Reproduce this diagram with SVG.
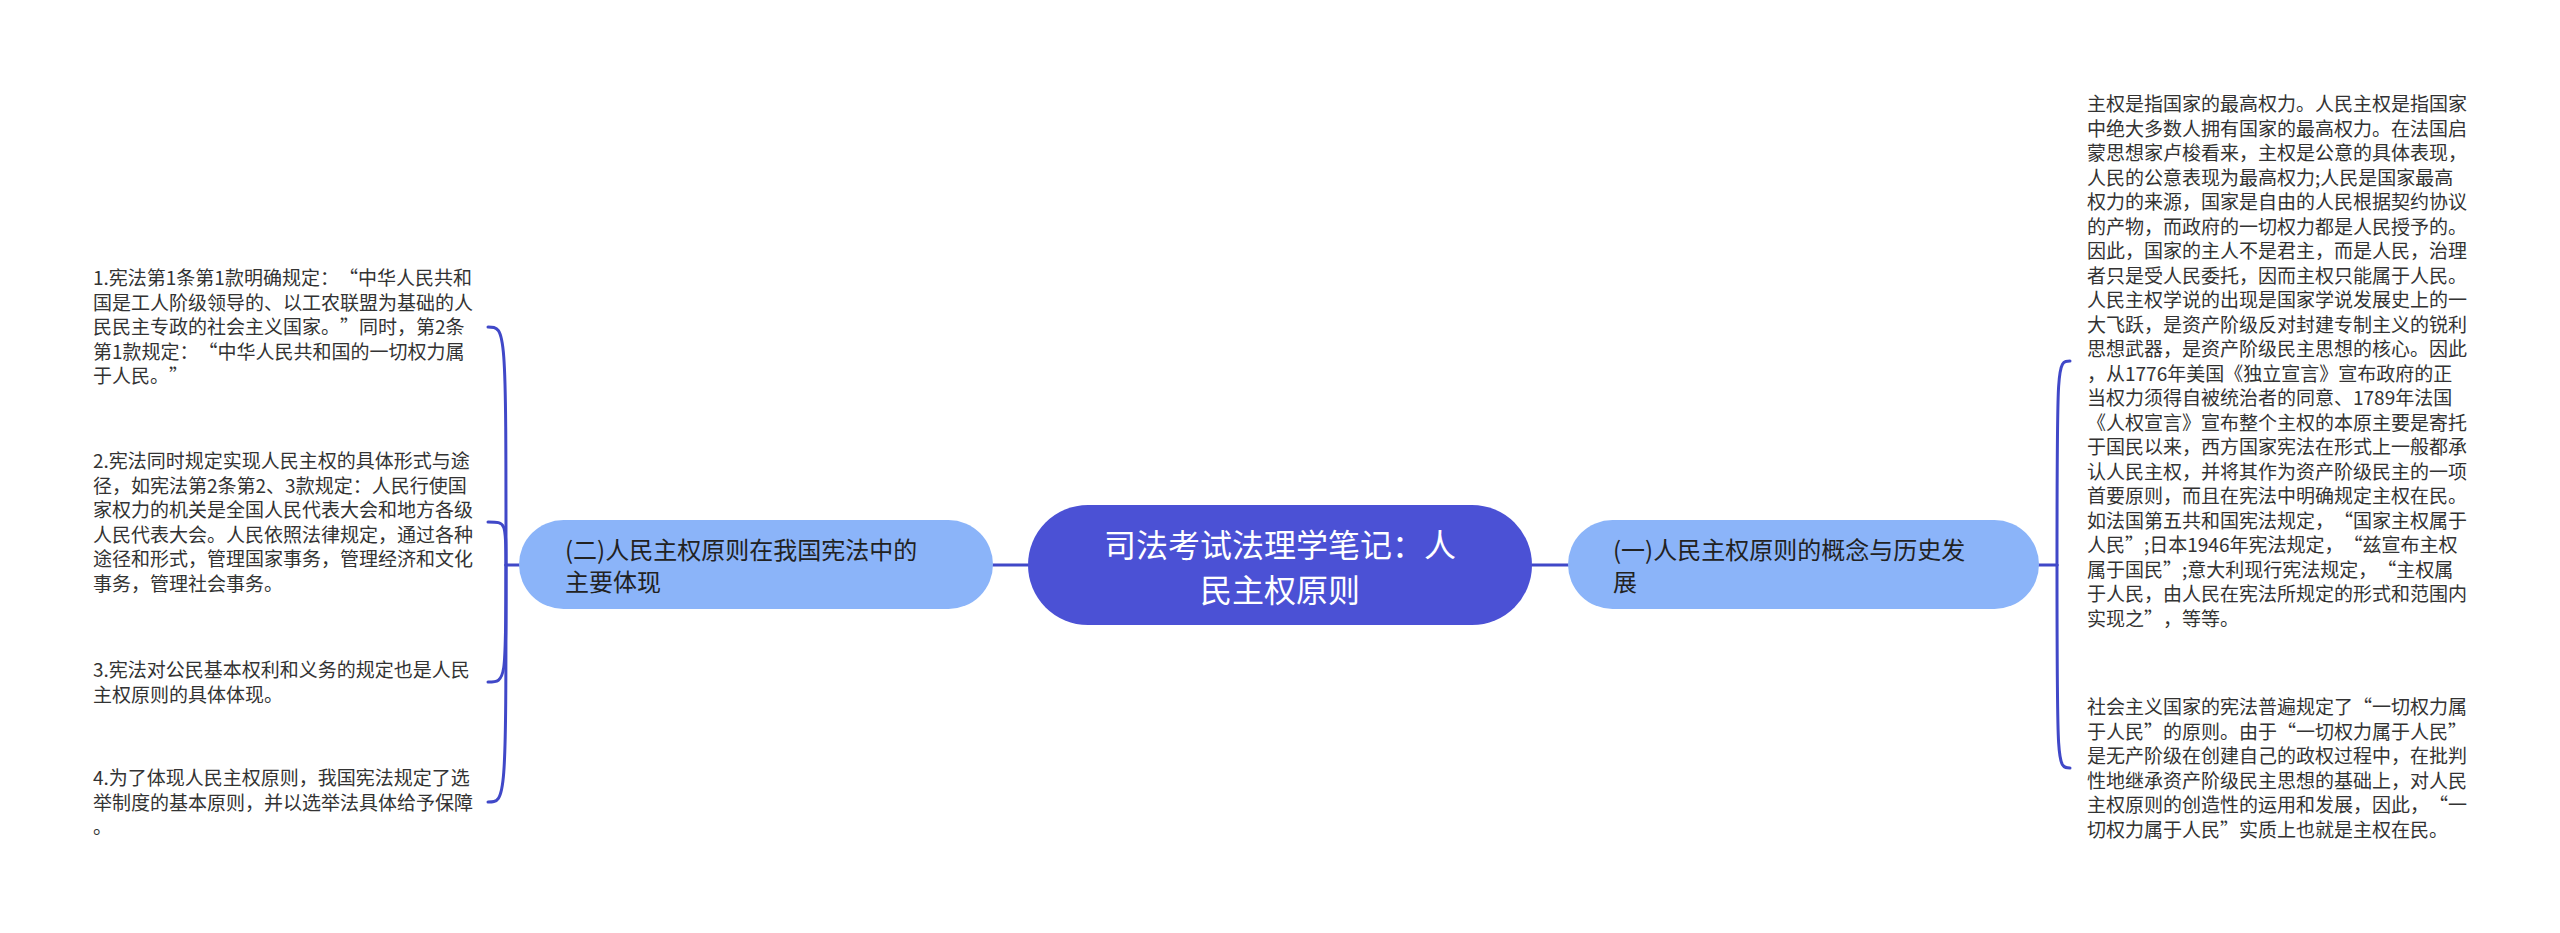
<svg xmlns="http://www.w3.org/2000/svg" width="2560" height="933" viewBox="0 0 2560 933">
<style>
  text { text-spacing-trim: space-all; font-kerning: none; }
  .t { font-family: "Noto Sans CJK SC", "Liberation Sans", sans-serif; font-size: 19px; fill: #333333; }
  .n { font-family: "Noto Sans CJK SC", "Liberation Sans", sans-serif; font-size: 24px; fill: #222222; }
  .c { font-family: "Noto Sans CJK SC", "Liberation Sans", sans-serif; font-size: 32px; fill: #ffffff; text-anchor: middle; }
  .sub { fill: #8bb4f9; }
  .root { fill: #4b51d5; }
  .ln { fill: none; stroke: #4048c8; stroke-width: 3; stroke-linecap: round; }
</style>
<rect width="2560" height="933" fill="#ffffff"/>
<g id="connectors">
  <path class="ln" d="M 993 565 L 1028 565"/>
  <path class="ln" d="M 1532 565 L 1568 565"/>
  <path class="ln" d="M 519 565 L 506 565"/>
  <path class="ln" d="M 506 565 C 506 327, 506 327, 488 327"/>
  <path class="ln" d="M 506 565 C 506 522, 506 522, 488 522"/>
  <path class="ln" d="M 506 565 C 506 682, 506 682, 488 682"/>
  <path class="ln" d="M 506 565 C 506 802, 506 802, 488 802"/>
  <path class="ln" d="M 2039 565 L 2057 565"/>
  <path class="ln" d="M 2057 565 C 2057 361, 2057 361, 2070 361"/>
  <path class="ln" d="M 2057 565 C 2057 768, 2057 768, 2070 768"/>
</g>
<g id="root">
  <rect class="root" x="1028" y="505" width="504" height="120" rx="60" ry="60"/>
  <text class="c" x="1280" y="557">司法考试法理学笔记：人</text>
  <text class="c" x="1280" y="602">民主权原则</text>
</g>
<g id="node-left">
  <rect class="sub" x="519" y="520" width="474" height="89" rx="44.5" ry="44.5"/>
  <text class="n" x="565" y="559">(二)人民主权原则在我国宪法中的</text>
  <text class="n" x="565" y="591">主要体现</text>
</g>
<g id="node-right">
  <rect class="sub" x="1568" y="520" width="471" height="89" rx="44.5" ry="44.5"/>
  <text class="n" x="1613" y="559">(一)人民主权原则的概念与历史发</text>
  <text class="n" x="1613" y="591">展</text>
</g>
<g id="left-1">
  <text class="t" x="93" y="285">1.宪法第1条第1款明确规定：“中华人民共和</text>
  <text class="t" x="93" y="309.5">国是工人阶级领导的、以工农联盟为基础的人</text>
  <text class="t" x="93" y="334">民民主专政的社会主义国家。”同时，第2条</text>
  <text class="t" x="93" y="358.5">第1款规定：“中华人民共和国的一切权力属</text>
  <text class="t" x="93" y="383">于人民。”</text>
</g>
<g id="left-2">
  <text class="t" x="93" y="468">2.宪法同时规定实现人民主权的具体形式与途</text>
  <text class="t" x="93" y="492.5">径，如宪法第2条第2、3款规定：人民行使国</text>
  <text class="t" x="93" y="517">家权力的机关是全国人民代表大会和地方各级</text>
  <text class="t" x="93" y="541.5">人民代表大会。人民依照法律规定，通过各种</text>
  <text class="t" x="93" y="566">途径和形式，管理国家事务，管理经济和文化</text>
  <text class="t" x="93" y="590.5">事务，管理社会事务。</text>
</g>
<g id="left-3">
  <text class="t" x="93" y="677">3.宪法对公民基本权利和义务的规定也是人民</text>
  <text class="t" x="93" y="701.5">主权原则的具体体现。</text>
</g>
<g id="left-4">
  <text class="t" x="93" y="785">4.为了体现人民主权原则，我国宪法规定了选</text>
  <text class="t" x="93" y="809.5">举制度的基本原则，并以选举法具体给予保障</text>
  <text class="t" x="93" y="834">。</text>
</g>
<g id="right-1">
  <text class="t" x="2087" y="111">主权是指国家的最高权力。人民主权是指国家</text>
  <text class="t" x="2087" y="135.5">中绝大多数人拥有国家的最高权力。在法国启</text>
  <text class="t" x="2087" y="160">蒙思想家卢梭看来，主权是公意的具体表现，</text>
  <text class="t" x="2087" y="184.5">人民的公意表现为最高权力;人民是国家最高</text>
  <text class="t" x="2087" y="209">权力的来源，国家是自由的人民根据契约协议</text>
  <text class="t" x="2087" y="233.5">的产物，而政府的一切权力都是人民授予的。</text>
  <text class="t" x="2087" y="258">因此，国家的主人不是君主，而是人民，治理</text>
  <text class="t" x="2087" y="282.5">者只是受人民委托，因而主权只能属于人民。</text>
  <text class="t" x="2087" y="307">人民主权学说的出现是国家学说发展史上的一</text>
  <text class="t" x="2087" y="331.5">大飞跃，是资产阶级反对封建专制主义的锐利</text>
  <text class="t" x="2087" y="356">思想武器，是资产阶级民主思想的核心。因此</text>
  <text class="t" x="2087" y="380.5">，从1776年美国《独立宣言》宣布政府的正</text>
  <text class="t" x="2087" y="405">当权力须得自被统治者的同意、1789年法国</text>
  <text class="t" x="2087" y="429.5">《人权宣言》宣布整个主权的本原主要是寄托</text>
  <text class="t" x="2087" y="454">于国民以来，西方国家宪法在形式上一般都承</text>
  <text class="t" x="2087" y="478.5">认人民主权，并将其作为资产阶级民主的一项</text>
  <text class="t" x="2087" y="503">首要原则，而且在宪法中明确规定主权在民。</text>
  <text class="t" x="2087" y="527.5">如法国第五共和国宪法规定，“国家主权属于</text>
  <text class="t" x="2087" y="552">人民”;日本1946年宪法规定，“兹宣布主权</text>
  <text class="t" x="2087" y="576.5">属于国民”;意大利现行宪法规定，“主权属</text>
  <text class="t" x="2087" y="601">于人民，由人民在宪法所规定的形式和范围内</text>
  <text class="t" x="2087" y="625.5">实现之”，等等。</text>
</g>
<g id="right-2">
  <text class="t" x="2087" y="714">社会主义国家的宪法普遍规定了“一切权力属</text>
  <text class="t" x="2087" y="738.5">于人民”的原则。由于“一切权力属于人民”</text>
  <text class="t" x="2087" y="763">是无产阶级在创建自己的政权过程中，在批判</text>
  <text class="t" x="2087" y="787.5">性地继承资产阶级民主思想的基础上，对人民</text>
  <text class="t" x="2087" y="812">主权原则的创造性的运用和发展，因此，“一</text>
  <text class="t" x="2087" y="836.5">切权力属于人民”实质上也就是主权在民。</text>
</g>
</svg>
